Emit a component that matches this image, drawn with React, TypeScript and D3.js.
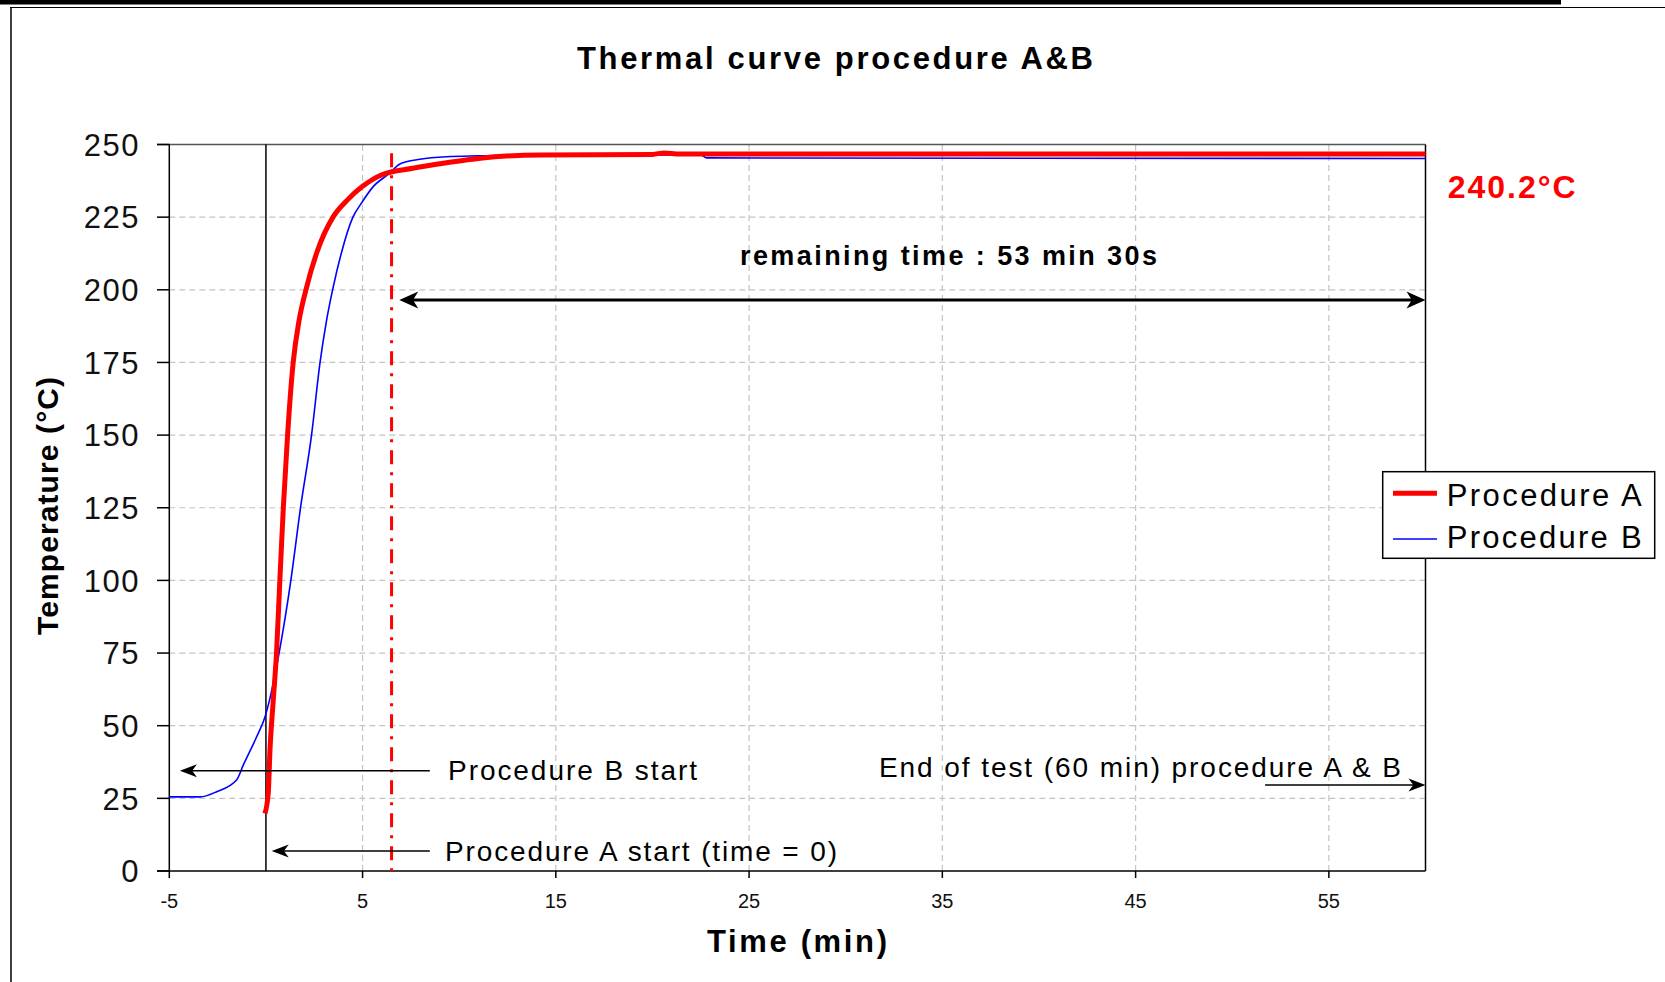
import React from "react";
import * as d3 from "d3";

// Procedure A (red) — time in minutes, temperature in °C
const timeA = [-0.05, 0.12, 0.21, 0.38, 0.55, 0.72, 0.9, 1.12, 1.41, 1.72, 2.07, 2.62, 3.47, 4.17, 5.0, 6.0, 7.6, 9.35, 11.1, 14.2, 20.0, 20.6, 21.4, 30, 45, 60];
const tempA = [19.8, 26.8, 41.6, 58.8, 75.3, 100, 125, 150, 175, 189.6, 200, 212.6, 225, 230.6, 235.6, 239.6, 241.8, 243.7, 245.3, 246.4, 246.6, 247.1, 246.7, 246.7, 246.7, 246.7];

// Procedure B (blue)
const timeB = [-5, -3.4, -2.55, -1.52, -1.17, -0.48, -0.05, 0.21, 0.69, 1.29, 1.79, 2.36, 2.8, 3.14, 3.45, 3.9, 4.5, 4.95, 5.55, 6.4, 6.93, 7.97, 9.35, 11.0, 14.0, 22.5, 22.8, 60];
const tempB = [25.5, 25.5, 27.3, 31.3, 36.5, 46.2, 53.0, 59.5, 75.3, 100, 125, 150, 175, 189.6, 200, 212.6, 225, 229.9, 235.5, 240.1, 243.3, 244.9, 245.8, 246.1, 246.4, 246.4, 245.4, 245.2];

const xTicks = [-5, 5, 15, 25, 35, 45, 55];
const yTicks = [0, 25, 50, 75, 100, 125, 150, 175, 200, 225, 250];

const startA = 0; // procedure A start (time = 0)
const remainingStart = 6.5; // 60 min - 53 min 30s
const endTime = 60;

const FONT = "'Liberation Sans', Arial, sans-serif";

type Pt = [number, number];

function arrowHead(tx: number, ty: number, dir: number, len = 18, wid = 15) {
  return `M${tx},${ty} L${tx - dir * len},${ty - wid / 2} L${tx - dir * len * 0.72},${ty} L${tx - dir * len},${ty + wid / 2} Z`;
}

export default function App() {
  const x = d3.scaleLinear().domain([-5, 60]).range([169.3, 1425.5]);
  const y = d3.scaleLinear().domain([0, 250]).range([871, 144.5]);

  const line = d3
    .line<Pt>()
    .x((d) => x(d[0]))
    .y((d) => y(d[1]))
    .curve(d3.curveMonotoneX);

  const seriesA: Pt[] = timeA.map((t, i) => [t, tempA[i]]);
  const seriesB: Pt[] = timeB.map((t, i) => [t, tempB[i]]);

  const [x0, x1] = x.range();
  const [y0, y1] = y.range();

  // annotation arrows in data units
  const bArrow = { from: 8.48, to: -4.45, temp: 34.5 };
  const aArrow = { from: 8.48, to: 0.3, temp: 6.9 };
  const endArrow = { from: 51.7, to: endTime, temp: 29.6 };
  const remArrow = { from: remainingStart + 0.4, to: endTime, temp: 196.5 };

  return (
    <svg
      width={1665}
      height={982}
      style={{ position: "absolute", left: 0, top: 0, display: "block", background: "#fff" }}
      fontFamily={FONT}
    >
      {/* page frame */}
      <rect x={0} y={0} width={1561} height={4.5} fill="#000" />
      <line x1={10} x2={1665} y1={7.5} y2={7.5} stroke="#000" strokeWidth={1.2} />
      <line x1={11} x2={11} y1={7} y2={982} stroke="#000" strokeWidth={1.5} />

      <text x={577} y={69} fontSize={31} fontWeight="bold" textLength={516} lengthAdjust="spacing">
        Thermal curve procedure A&amp;B
      </text>

      {/* grid */}
      {yTicks.filter((v) => v > 0 && v < 250).map((v) => (
        <line key={"gy" + v} x1={x0} x2={x1} y1={y(v)} y2={y(v)} stroke="#c4c4c4" strokeWidth={1.2} strokeDasharray="6,4" />
      ))}
      {xTicks.filter((v) => v > -5).map((v) => (
        <line key={"gx" + v} x1={x(v)} x2={x(v)} y1={y0} y2={y1} stroke="#c4c4c4" strokeWidth={1.2} strokeDasharray="6,4" />
      ))}

      {/* frame of the plot */}
      <line x1={157} x2={x1} y1={y1} y2={y1} stroke="#555" strokeWidth={1.5} />
      <line x1={x1} x2={x1} y1={y1} y2={y0} stroke="#000" strokeWidth={1.5} />
      <line x1={x0} x2={x0} y1={y1} y2={y0} stroke="#000" strokeWidth={1.5} />
      <line x1={157} x2={x1} y1={y0} y2={y0} stroke="#000" strokeWidth={1.5} />

      {/* y ticks */}
      {yTicks.map((v) => (
        <g key={"yt" + v}>
          <line x1={157} x2={x0} y1={y(v)} y2={y(v)} stroke="#000" strokeWidth={1.5} />
          <text x={140} y={y(v)} dy="0.36em" textAnchor="end" fontSize={31} letterSpacing={1.5} fill="#111">
            {v}
          </text>
        </g>
      ))}

      {/* x ticks */}
      {xTicks.map((v) => (
        <g key={"xt" + v}>
          <line x1={x(v)} x2={x(v)} y1={y0} y2={y0 + 7} stroke="#000" strokeWidth={1.5} />
          <text x={x(v)} y={908} textAnchor="middle" fontSize={20} fill="#111">
            {v}
          </text>
        </g>
      ))}

      <text x={707} y={952} fontSize={31} fontWeight="bold" textLength={180} lengthAdjust="spacing">
        Time (min)
      </text>
      <text
        transform={`translate(57.5,${506 + 129}) rotate(-90)`}
        fontSize={30}
        fontWeight="bold"
        textLength={258}
        lengthAdjust="spacing"
      >
        Temperature (°C)
      </text>

      {/* procedure A start line at time 0 */}
      <line x1={x(startA)} x2={x(startA)} y1={y1} y2={y0} stroke="#000" strokeWidth={1.5} />

      {/* red dash-dot line at 6.5 min */}
      <line
        x1={x(remainingStart)}
        x2={x(remainingStart)}
        y1={y(247)}
        y2={y0}
        stroke="#ff0000"
        strokeWidth={3}
        strokeDasharray="14,8,3,8"
      />

      {/* series */}
      <path d={line(seriesB) || ""} fill="none" stroke="#0000ff" strokeWidth={1.6} />
      <path d={line(seriesA) || ""} fill="none" stroke="#ff0000" strokeWidth={5} strokeLinejoin="round" />

      {/* remaining time arrow */}
      <line x1={x(remArrow.from) + 12} x2={x(remArrow.to) - 12} y1={y(remArrow.temp)} y2={y(remArrow.temp)} stroke="#000" strokeWidth={3} />
      <path d={arrowHead(x(remArrow.from), y(remArrow.temp), -1, 19, 17)} fill="#000" />
      <path d={arrowHead(x(remArrow.to), y(remArrow.temp), 1, 19, 17)} fill="#000" />
      <text x={740} y={265} fontSize={27} fontWeight="bold" textLength={417} lengthAdjust="spacing">
        remaining time : 53 min 30s
      </text>

      {/* procedure B start */}
      <line x1={x(bArrow.from)} x2={x(bArrow.to) + 10} y1={y(bArrow.temp)} y2={y(bArrow.temp)} stroke="#000" strokeWidth={1.6} />
      <path d={arrowHead(x(bArrow.to), y(bArrow.temp), -1, 17, 13)} fill="#000" />
      <text x={448} y={780} fontSize={28} textLength={249} lengthAdjust="spacing">
        Procedure B start
      </text>

      {/* procedure A start */}
      <line x1={x(aArrow.from)} x2={x(aArrow.to) + 10} y1={y(aArrow.temp)} y2={y(aArrow.temp)} stroke="#000" strokeWidth={1.6} />
      <path d={arrowHead(x(aArrow.to), y(aArrow.temp), -1, 17, 13)} fill="#000" />
      <text x={445} y={861} fontSize={28} textLength={392} lengthAdjust="spacing">
        Procedure A start (time = 0)
      </text>

      {/* end of test */}
      <text x={879} y={777} fontSize={28} textLength={522} lengthAdjust="spacing">
        End of test (60 min) procedure A &amp; B
      </text>
      <line x1={x(endArrow.from)} x2={x(endArrow.to) - 10} y1={y(endArrow.temp)} y2={y(endArrow.temp)} stroke="#000" strokeWidth={1.6} />
      <path d={arrowHead(x(endArrow.to), y(endArrow.temp), 1, 17, 13)} fill="#000" />

      {/* final temperature */}
      <text x={1447.7} y={198} fontSize={32} fontWeight="bold" fill="#ff0000" textLength={128} lengthAdjust="spacing">
        240.2°C
      </text>

      {/* legend */}
      <rect x={1382.7} y={471.7} width={272} height={86.6} fill="#fff" stroke="#000" strokeWidth={1.5} />
      <line x1={1393} x2={1437} y1={493.3} y2={493.3} stroke="#ff0000" strokeWidth={5} />
      <line x1={1393} x2={1437} y1={539} y2={539} stroke="#0000ff" strokeWidth={1.6} />
      <text x={1446.7} y={506} fontSize={31} textLength={195} lengthAdjust="spacing">
        Procedure A
      </text>
      <text x={1446.7} y={548} fontSize={31} textLength={195} lengthAdjust="spacing">
        Procedure B
      </text>
    </svg>
  );
}
